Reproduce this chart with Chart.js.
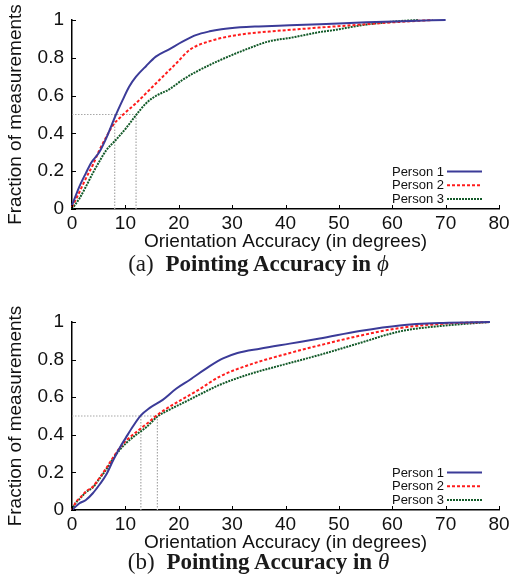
<!DOCTYPE html>
<html>
<head>
<meta charset="utf-8">
<script src="https://cdn.jsdelivr.net/npm/chart.js@4.4.1/dist/chart.umd.min.js"></script>
<style>
  html, body { margin: 0; padding: 0; background: #fff; }
  body { width: 513px; height: 577px; position: relative; overflow: hidden; }
  .plot { position: absolute; left: 0; width: 513px; }
  #phiWrap { top: 0; height: 256px; }
  #thetaWrap { top: 302px; height: 255px; }
  .caption {
    position: absolute; left: 2px; width: 513px; text-align: center;
    font-family: "Liberation Serif", "Times New Roman", serif;
    font-size: 23px; line-height: 23px; color: #1a1a1a; white-space: nowrap;
  }
  .caption b { margin-left: 6px; }
  #capA { top: 252px; }
  #capB { top: 550px; }
</style>
</head>
<body>
<div class="plot" id="phiWrap"><canvas id="phiChart"></canvas></div>
<div class="caption" id="capA">(a) <b>Pointing Accuracy in</b> <i>ϕ</i></div>
<div class="plot" id="thetaWrap"><canvas id="thetaChart"></canvas></div>
<div class="caption" id="capB">(b) <b>Pointing Accuracy in</b> <i>θ</i></div>

<script>
// series names
const people = ['Person 1', 'Person 2', 'Person 3'];

// (a) accuracy in phi : CDF points
const phiX1 = [0, 1.4, 2.6, 3.6, 5.1, 6.4, 8.1, 9.5, 10.7, 12, 13.9, 15.7, 18.2, 20.7, 23.2, 25.8, 28, 31.5, 35, 40.8, 46.4, 55.2, 62, 70];
const phiY1 = [0.02, 0.12, 0.19, 0.245, 0.30, 0.374, 0.49, 0.577, 0.647, 0.70, 0.757, 0.806, 0.845, 0.885, 0.92, 0.94, 0.951, 0.961, 0.966, 0.972, 0.978, 0.988, 0.994, 1.0];
const phiX2 = [0, 1.4, 2.6, 3.9, 5.1, 6.4, 7.6, 9.5, 12, 14.5, 17, 19.5, 22.1, 25.8, 31.5, 37, 42.7, 46.4, 55.2, 61.4, 67.6];
const phiY2 = [0.01, 0.09, 0.162, 0.233, 0.31, 0.38, 0.44, 0.497, 0.56, 0.63, 0.70, 0.77, 0.843, 0.888, 0.923, 0.939, 0.952, 0.96, 0.978, 0.99, 1.0];
const phiX3 = [0, 1.4, 2.6, 3.9, 5.1, 6.4, 8.2, 10.1, 12, 13.9, 15.7, 18.2, 20.7, 23.2, 27.7, 33.3, 37, 40.8, 46.4, 48.9, 55.2, 61.4, 64.8];
const phiY3 = [0, 0.056, 0.118, 0.19, 0.25, 0.31, 0.365, 0.427, 0.497, 0.56, 0.598, 0.633, 0.683, 0.725, 0.787, 0.852, 0.888, 0.905, 0.936, 0.946, 0.976, 0.994, 1.0];
const phiMedians = [8, 12];

// (b) accuracy in theta
const thetaX1 = [0, 1.4, 2.6, 3.9, 5.1, 6.4, 7.6, 8.9, 10.1, 11.4, 12.9, 14.5, 17, 19.5, 22.1, 25.8, 28.3, 31, 35.2, 40.8, 46.4, 53.9, 61.4, 69.5, 78.3];
const thetaY1 = [0, 0.036, 0.053, 0.089, 0.133, 0.187, 0.258, 0.329, 0.385, 0.444, 0.503, 0.542, 0.586, 0.645, 0.693, 0.765, 0.806, 0.835, 0.858, 0.885, 0.912, 0.952, 0.982, 0.995, 1.0];
const thetaX2 = [0, 0.75, 1.4, 2.6, 3.9, 5.1, 6.4, 7.6, 8.9, 10.1, 12, 13.9, 16, 18.2, 20.7, 23.2, 27.7, 33.3, 40.8, 46.4, 53.9, 61.4, 69.5, 78.3];
const thetaY2 = [0, 0.044, 0.062, 0.098, 0.124, 0.169, 0.222, 0.275, 0.329, 0.368, 0.414, 0.456, 0.506, 0.548, 0.59, 0.63, 0.71, 0.773, 0.835, 0.876, 0.927, 0.968, 0.991, 1.0];
const thetaX3 = [0, 0.75, 1.4, 2.6, 3.9, 5.1, 6.4, 7.6, 8.9, 10.1, 12, 13.9, 16, 18.2, 20.7, 23.2, 27.7, 33.3, 40.8, 46.4, 53.9, 61.4, 69.5, 78.3];
const thetaY3 = [0, 0.04, 0.058, 0.095, 0.12, 0.165, 0.215, 0.27, 0.318, 0.355, 0.40, 0.44, 0.497, 0.533, 0.568, 0.604, 0.666, 0.723, 0.782, 0.825, 0.888, 0.95, 0.98, 1.0];
const thetaMedians = [12.9, 16];

const medianLevel = 0.5;
const xRange = [0, 80];
const xStep = 10;
const yRange = [0, 1];
const yStep = 0.2;
const yTickLabels = ['0', '0.2', '0.4', '0.6', '0.8', '1'];

const sans = '"Liberation Sans", Arial, Helvetica, sans-serif';
const lineStyles = [
  { borderColor: '#3b3b98', borderWidth: 2, borderDash: [] },
  { borderColor: '#ff1c1c', borderWidth: 2, borderDash: [3, 2] },
  { borderColor: '#135a29', borderWidth: 2, borderDash: [2, 1] }
];

function pts(xs, ys) {
  return xs.map((x, i) => ({ x: x, y: ys[i] }));
}

function medianSets(meds) {
  const grey = { borderColor: '#a8a8a8', borderWidth: 1.2, borderDash: [1.5, 1.5], pointRadius: 0, order: 10, clip: false };
  const out = [Object.assign({ data: [{ x: 0, y: medianLevel }, { x: Math.max(...meds), y: medianLevel }] }, grey)];
  meds.forEach(m => {
    out.push(Object.assign({ data: [{ x: m, y: medianLevel }, { x: m, y: 0 }] }, grey));
  });
  return out;
}

// small ticks pointing into the plot, like gnuplot does
const inwardTicks = {
  id: 'inwardTicks',
  afterDraw(chart) {
    const { ctx, chartArea, scales } = chart;
    ctx.save();
    ctx.strokeStyle = '#000';
    ctx.lineWidth = 1;
    scales.x.ticks.forEach(t => {
      const px = Math.round(scales.x.getPixelForValue(t.value)) + 0.5;
      ctx.beginPath();
      ctx.moveTo(px, chartArea.bottom);
      ctx.lineTo(px, chartArea.bottom - 4);
      ctx.stroke();
    });
    scales.y.ticks.forEach(t => {
      const py = Math.round(scales.y.getPixelForValue(t.value)) + 0.5;
      ctx.beginPath();
      ctx.moveTo(chartArea.left, py);
      ctx.lineTo(chartArea.left + 4, py);
      ctx.stroke();
    });
    ctx.restore();
  }
};

// key in the lower right corner: text first, line sample after it
const cornerLegend = {
  id: 'cornerLegend',
  afterDatasetsDraw(chart) {
    const { ctx, chartArea } = chart;
    const items = chart.data.datasets.filter(d => d.label);
    ctx.save();
    ctx.font = '13px ' + sans;
    ctx.textAlign = 'right';
    ctx.textBaseline = 'middle';
    ctx.fillStyle = '#111';
    items.forEach((d, i) => {
      const y = chartArea.bottom - 10 - (items.length - 1 - i) * 13.7;
      const x1 = chartArea.right - 17;
      const x0 = x1 - 35;
      ctx.fillText(d.label, x0 - 3, y + 0.5);
      ctx.strokeStyle = d.borderColor;
      ctx.lineWidth = d.borderWidth;
      ctx.setLineDash(d.borderDash || []);
      ctx.beginPath();
      ctx.moveTo(x0, y);
      ctx.lineTo(x1, y);
      ctx.stroke();
    });
    ctx.restore();
  }
};

function makeChart(id, series, meds) {
  const datasets = series.map((s, i) => Object.assign({
    label: people[i],
    data: pts(s[0], s[1]),
    pointRadius: 0,
    cubicInterpolationMode: 'monotone',
    order: i,
    clip: false
  }, lineStyles[i]));

  new Chart(document.getElementById(id), {
    type: 'line',
    data: { datasets: datasets.concat(medianSets(meds)) },
    options: {
      responsive: true,
      maintainAspectRatio: false,
      animation: false,
      events: [],
      layout: { padding: { top: 20, right: 14, bottom: 3, left: 0 } },
      plugins: { legend: { display: false }, tooltip: { enabled: false } },
      scales: {
        x: {
          type: 'linear',
          min: xRange[0], max: xRange[1],
          grid: { display: false, drawTicks: false },
          border: { display: true, color: '#000', width: 1.5 },
          ticks: { stepSize: xStep, autoSkip: false, maxRotation: 0, padding: 3, color: '#111', font: { family: sans, size: 19 } },
          title: { display: true, text: 'Orientation Accuracy (in degrees)', color: '#111', padding: { top: 0, bottom: 0 }, font: { family: sans, size: 19 } },
          afterFit(scale) { scale.height = 44; }
        },
        y: {
          min: yRange[0], max: yRange[1],
          grid: { display: false, drawTicks: false },
          border: { display: true, color: '#000', width: 1.5 },
          ticks: {
            stepSize: yStep, padding: 8, color: '#111', font: { family: sans, size: 19 },
            callback: (v, i) => yTickLabels[i]
          },
          title: { display: true, text: 'Fraction of measurements', color: '#111', padding: { top: 4, bottom: 0 }, font: { family: sans, size: 19 } },
          afterFit(scale) { scale.width = 72; }
        }
      }
    },
    plugins: [inwardTicks, cornerLegend]
  });
}

makeChart('phiChart', [[phiX1, phiY1], [phiX2, phiY2], [phiX3, phiY3]], phiMedians);
makeChart('thetaChart', [[thetaX1, thetaY1], [thetaX2, thetaY2], [thetaX3, thetaY3]], thetaMedians);
</script>
</body>
</html>
